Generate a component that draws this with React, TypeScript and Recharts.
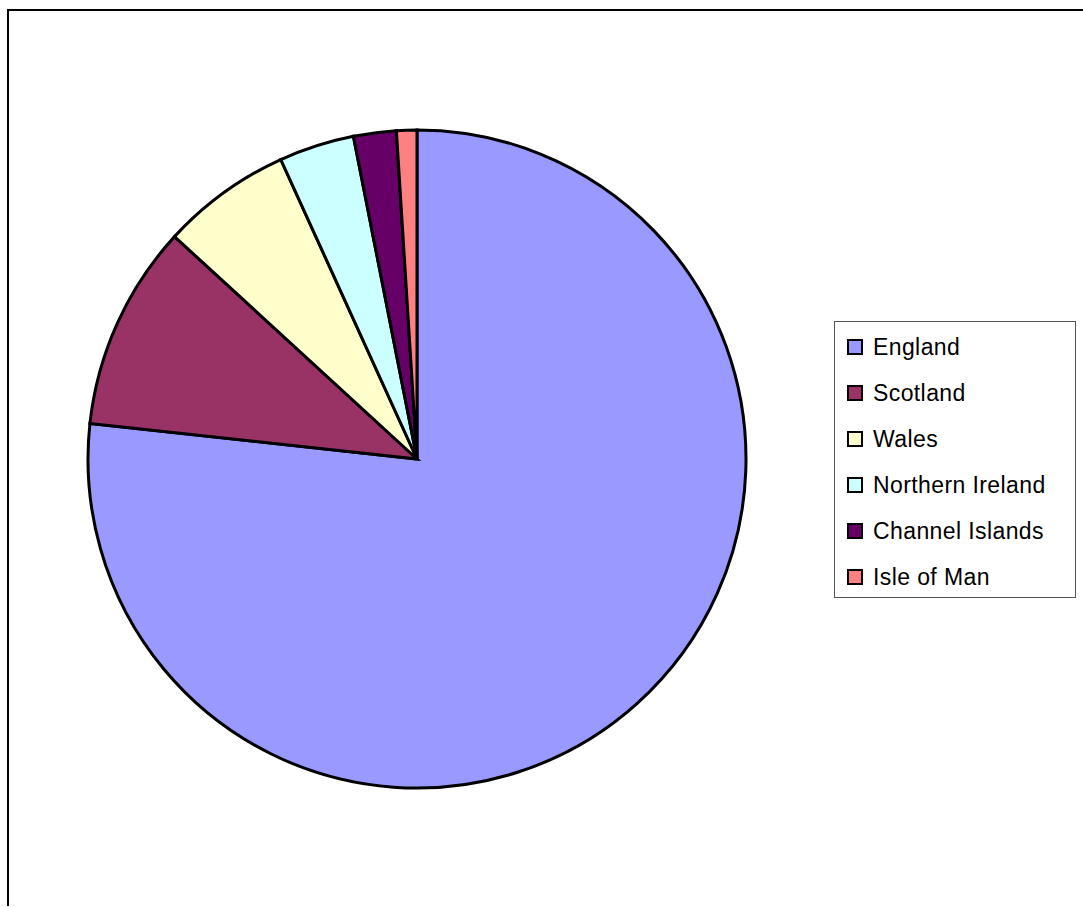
import React from 'react';
import { PieChart, Pie, Cell, Legend } from 'recharts';

const REGIONS = ['England', 'Scotland', 'Wales', 'Northern Ireland', 'Channel Islands', 'Isle of Man'];
const SHARES = [76.8, 10.1, 6.4, 3.7, 2.1, 1.0];
const COLORS = ['#9999FF', '#993366', '#FFFFCC', '#CCFFFF', '#660066', '#FF8080'];

const data = REGIONS.map((name, i) => ({ name, value: SHARES[i] }));

const LegendBox = () => (
  <div
    style={{
      width: 242,
      height: 277,
      border: '1px solid #555',
      background: '#fff',
      boxSizing: 'border-box',
      paddingTop: 2,
    }}
  >
    {REGIONS.map((name, i) => (
      <div key={name} style={{ display: 'flex', alignItems: 'center', height: 46, paddingLeft: 12 }}>
        <span
          style={{
            width: 12,
            height: 12,
            background: COLORS[i],
            border: '2px solid #000',
            display: 'inline-block',
            marginRight: 10,
          }}
        />
        <span style={{ fontFamily: '"Liberation Sans", Arial, sans-serif', fontSize: 23, color: '#000', letterSpacing: 0.4 }}>
          {name}
        </span>
      </div>
    ))}
  </div>
);

const App: React.FC = () => {
  return (
    <div style={{ position: 'absolute', left: 0, top: 0, width: 1083, height: 907, background: '#fff', overflow: 'hidden' }}>
      <div
        style={{
          position: 'absolute',
          left: 7,
          top: 9,
          width: 1100,
          height: 897,
          borderTop: '2px solid #000',
          borderLeft: '2px solid #000',
          boxSizing: 'border-box',
        }}
      />
      <div style={{ position: 'absolute', left: 0, top: 0 }}>
        <PieChart width={1083} height={907} margin={{ top: 0, right: 0, bottom: 0, left: 0 }}>
          <Pie
            data={data}
            dataKey="value"
            nameKey="name"
            cx={417}
            cy={459}
            outerRadius={329}
            startAngle={90}
            endAngle={-270}
            stroke="#000"
            strokeWidth={3}
            isAnimationActive={false}
          >
            {data.map((d, i) => (
              <Cell key={d.name} fill={COLORS[i]} />
            ))}
          </Pie>
          <Legend
            layout="vertical"
            content={() => <LegendBox />}
            wrapperStyle={{ position: 'absolute', left: 834, top: 321, width: 242 }}
          />
        </PieChart>
      </div>
    </div>
  );
};

export default App;
